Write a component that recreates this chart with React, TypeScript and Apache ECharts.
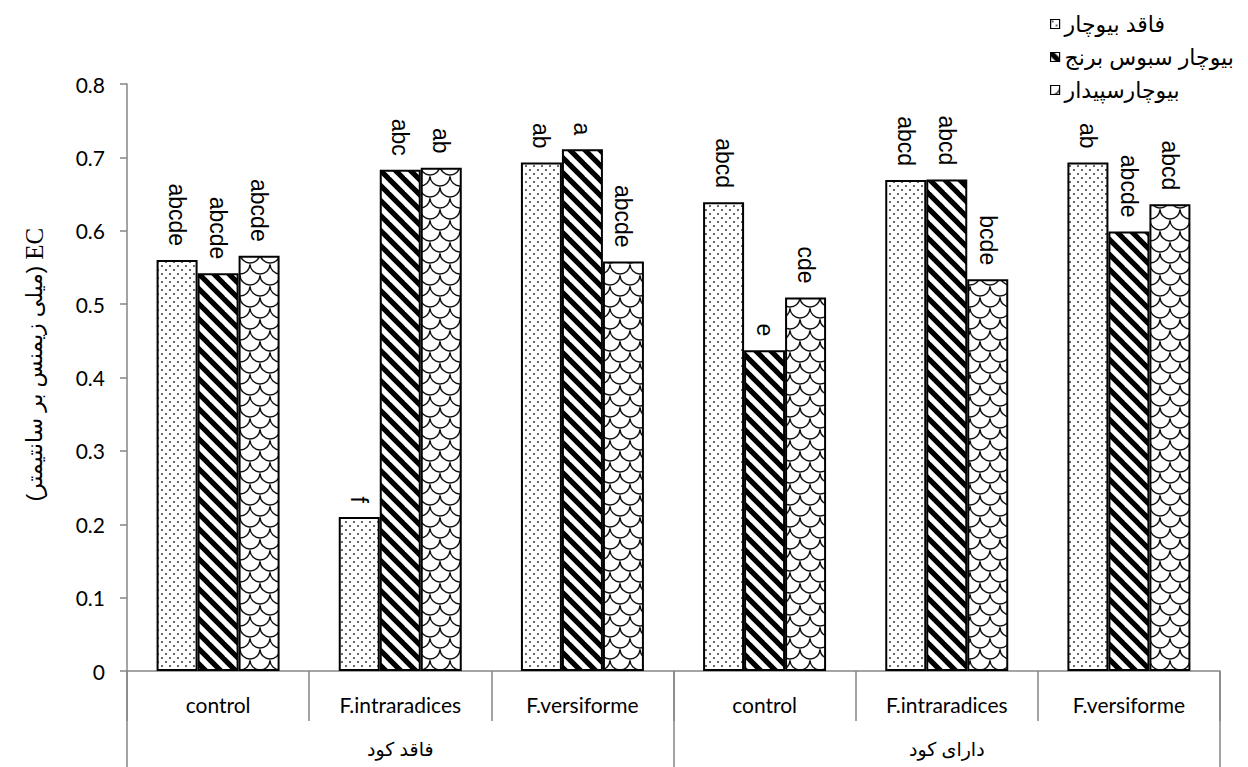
import React, { useEffect, useRef } from "react";
import * as echarts from "echarts";

// Fungal treatment per bar group and the fertilizer level each triple belongs to
const treatments = ["control", "F.intraradices", "F.versiforme", "control", "F.intraradices", "F.versiforme"];
const fertilizerLevels = ["فاقد کود", "دارای کود"];

// Series names (biochar type)
const seriesNames = ["فاقد بیوچار", "بیوچار سبوس برنج", "بیوچارسپیدار"];

// EC values (mS/cm)
const noBiochar = [0.56, 0.21, 0.693, 0.639, 0.669, 0.693];
const riceHuskBiochar = [0.542, 0.683, 0.711, 0.437, 0.67, 0.599];
const poplarBiochar = [0.566, 0.686, 0.558, 0.509, 0.534, 0.636];

// Mean-separation letters drawn above each bar
const noBiocharLetters = ["abcde", "f", "ab", "abcd", "abcd", "ab"];
const riceHuskLetters = ["abcde", "abc", "a", "e", "abcd", "abcde"];
const poplarLetters = ["abcde", "ab", "abcde", "cde", "bcde", "abcd"];

// Y axis range
const yMin = 0;
const yMax = 0.8;
const yStep = 0.1;

function makeTile(w: number, h: number, draw: (ctx: CanvasRenderingContext2D) => void) {
  const c = document.createElement("canvas");
  c.width = w;
  c.height = h;
  const ctx = c.getContext("2d")!;
  ctx.fillStyle = "#ffffff";
  ctx.fillRect(0, 0, w, h);
  draw(ctx);
  return { image: c, repeat: "repeat", imageWidth: w, imageHeight: h } as any;
}

function dottedPattern() {
  return makeTile(8, 8, (ctx) => {
    ctx.fillStyle = "#2a2a2a";
    for (const [x, y] of [[2, 2], [6, 6]]) {
      ctx.beginPath();
      ctx.arc(x, y, 0.95, 0, Math.PI * 2);
      ctx.fill();
    }
  });
}

function stripePattern() {
  const s = 15;
  return makeTile(s, s, (ctx) => {
    ctx.strokeStyle = "#000000";
    ctx.lineWidth = 5.2;
    for (const off of [-s, 0, s]) {
      ctx.beginPath();
      ctx.moveTo(off - 2, -2);
      ctx.lineTo(off + s + 2, s + 2);
      ctx.stroke();
    }
  });
}

function scalePattern() {
  const w = 20;
  const h = 22;
  return makeTile(w, h, (ctx) => {
    ctx.strokeStyle = "#111111";
    ctx.lineWidth = 1.4;
    for (let row = -1; row <= 3; row++) {
      const shift = row % 2 === 0 ? 0 : w / 2;
      for (let i = -1; i <= 2; i++) {
        const cx = i * w + shift;
        const cy = (row * h) / 2;
        ctx.beginPath();
        ctx.arc(cx, cy, w / 2, 0.05, Math.PI - 0.05);
        ctx.stroke();
      }
    }
  });
}

export default function App() {
  const ref = useRef<HTMLDivElement>(null);

  useEffect(() => {
    document.body.style.margin = "0";
    if (!ref.current) return;
    const chart = echarts.init(ref.current, undefined, { renderer: "svg" });

    const fills = [dottedPattern(), stripePattern(), scalePattern()];
    const values = [noBiochar, riceHuskBiochar, poplarBiochar];
    const letters = [noBiocharLetters, riceHuskLetters, poplarLetters];

    const series = seriesNames.map((name, s) => ({
      name,
      type: "bar",
      xAxisIndex: 0,
      barWidth: 41,
      barGap: "0%",
      data: values[s].map((v, i) => ({
        value: v,
        label: { formatter: letters[s][i] },
      })),
      itemStyle: {
        color: fills[s],
        borderColor: "#000000",
        borderWidth: 2,
      },
      label: {
        show: true,
        position: "top",
        rotate: -90,
        align: "right",
        verticalAlign: "middle",
        distance: 14,
        color: "#000000",
        fontFamily: "Liberation Sans, Arial, sans-serif",
        fontSize: 23,
      },
    }));

    chart.setOption({
      animation: false,
      backgroundColor: "#ffffff",
      grid: { left: 127, right: 28, top: 84, bottom: 96, containLabel: false },
      legend: {
        orient: "vertical",
        left: 1045,
        top: 8,
        itemWidth: 9,
        itemHeight: 9,
        itemGap: 11,
        icon: "rect",
        itemStyle: { borderWidth: 1.2, borderColor: "#000000" },
        textStyle: {
          fontFamily: "Liberation Sans, DejaVu Sans, sans-serif",
          fontSize: 22,
          color: "#000000",
        },
        data: seriesNames,
      },
      xAxis: [
        {
          type: "category",
          data: treatments,
          position: "bottom",
          axisLine: { show: true, lineStyle: { color: "#868686", width: 1.5 } },
          axisTick: { show: true, length: 50, lineStyle: { color: "#868686", width: 1.5 } },
          axisLabel: {
            margin: 23,
            color: "#000000",
            fontFamily: "Lato, sans-serif",
            fontSize: 21,
          },
        },
        {
          type: "category",
          data: fertilizerLevels,
          position: "bottom",
          axisLine: { show: false },
          axisTick: { show: true, length: 96, lineStyle: { color: "#868686", width: 1.5 } },
          axisLabel: {
            margin: 69,
            color: "#000000",
            fontFamily: "Liberation Sans, DejaVu Sans, sans-serif",
            fontSize: 19,
          },
        },
      ],
      yAxis: {
        type: "value",
        min: yMin,
        max: yMax,
        interval: yStep,
        splitLine: { show: false },
        axisLine: { show: true, lineStyle: { color: "#868686", width: 1.5 } },
        axisTick: { show: true, length: 7, lineStyle: { color: "#868686", width: 1.5 } },
        axisLabel: {
          margin: 22,
          color: "#000000",
          fontFamily: "Lato, sans-serif",
          fontSize: 21,
          formatter: (v: number) => (v === 0 ? "0" : v.toFixed(1)),
        },
        name: "{fa|(میلی زیمنس بر سانتیمتر) }{en|EC}",
        nameLocation: "middle",
        nameRotate: 90,
        nameGap: 80,
        nameTextStyle: {
          padding: [0, 0, 0, 26],
          rich: {
            fa: {
              fontFamily: "Liberation Sans, DejaVu Sans, sans-serif",
              fontSize: 22,
              color: "#000000",
            },
            en: {
              fontFamily: "Liberation Serif, serif",
              fontSize: 25,
              color: "#000000",
            },
          },
        },
      },
      series,
    });

    return () => chart.dispose();
  }, []);

  return <div ref={ref} style={{ width: 1248, height: 767 }} />;
}
